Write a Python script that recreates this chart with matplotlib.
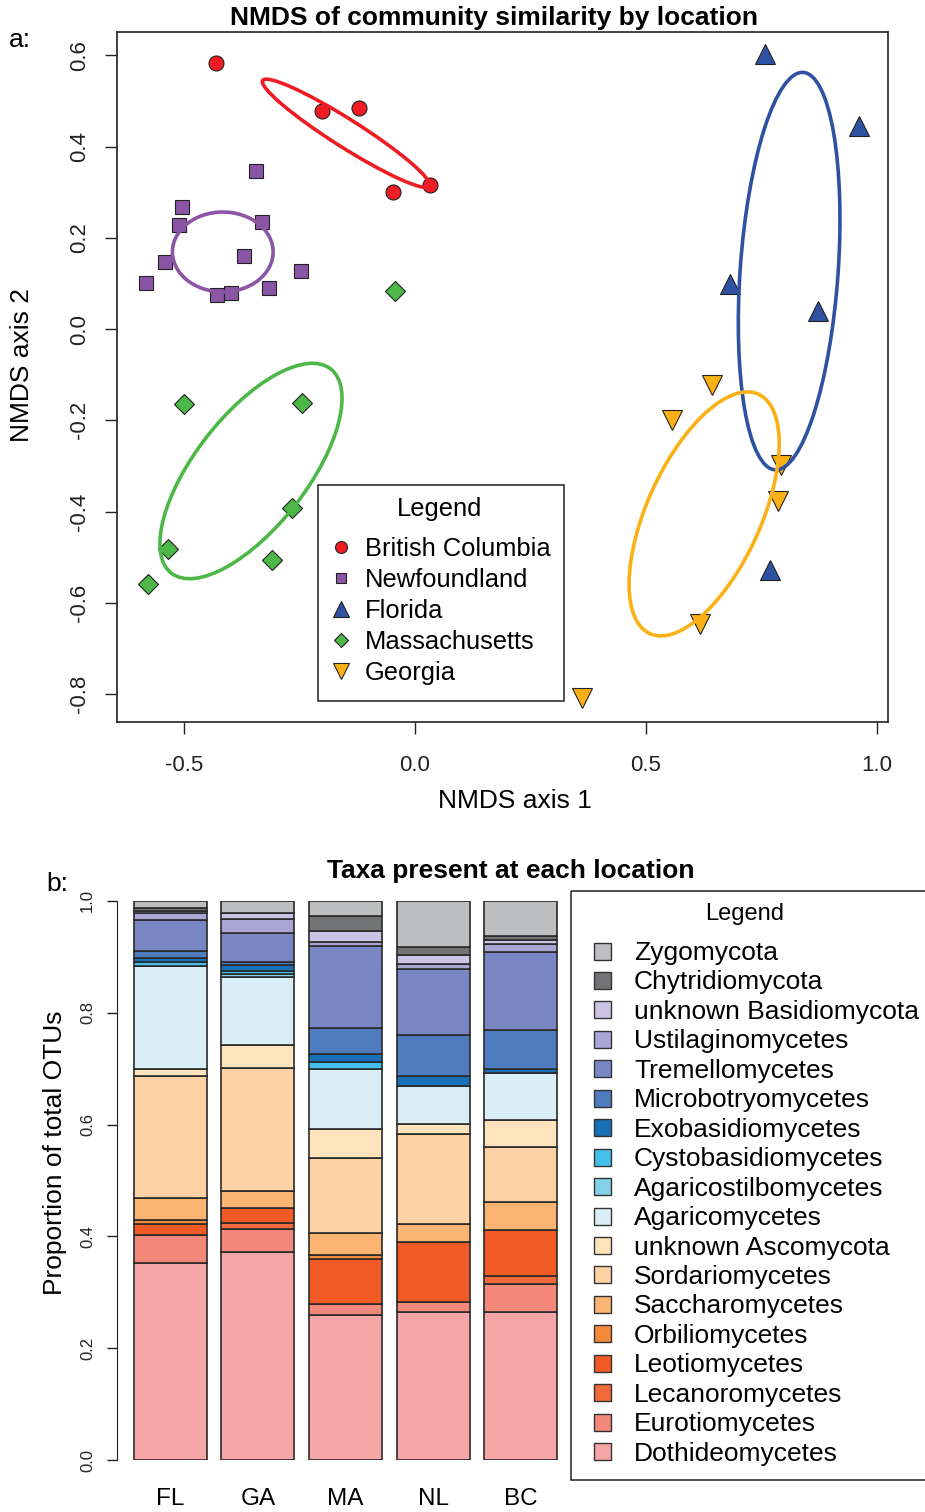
import numpy as np
import matplotlib.pyplot as plt
from matplotlib.patches import Ellipse, Rectangle

plt.rcParams['font.family'] = ['Liberation Sans', 'DejaVu Sans']

W, H = 925, 1512

# ---- panel a: NMDS scores ----
bc_x = [-0.431, -0.201, -0.121, -0.048, 0.032]
bc_y = [0.583, 0.478, 0.484, 0.300, 0.316]
nl_x = [-0.345, -0.505, -0.511, -0.332, -0.541, -0.371, -0.583, -0.247, -0.429, -0.399, -0.315]
nl_y = [0.346, 0.268, 0.229, 0.234, 0.148, 0.161, 0.101, 0.128, 0.074, 0.080, 0.089]
fl_x = [0.758, 0.962, 0.682, 0.872, 0.768]
fl_y = [0.603, 0.445, 0.098, 0.039, -0.528]
ma_x = [-0.043, -0.500, -0.245, -0.266, -0.535, -0.310, -0.578]
ma_y = [0.083, -0.164, -0.162, -0.392, -0.482, -0.506, -0.559]
ga_x = [0.643, 0.556, 0.792, 0.785, 0.617, 0.361]
ga_y = [-0.123, -0.200, -0.298, -0.377, -0.646, -0.809]

locations = ['British Columbia', 'Newfoundland', 'Florida', 'Massachusetts', 'Georgia']
loc_colors = ['#EE1D23', '#8B55A5', '#2E51A2', '#4DB848', '#FBB116']
loc_markers = ['o', 's', '^', 'D', 'v']

# ellipse centre x, centre y, width, height, angle
ell_cx = [-0.149, -0.416, 0.810, -0.355, 0.626]
ell_cy = [0.429, 0.169, 0.127, -0.311, -0.405]
ell_w = [0.429, 0.218, 0.873, 0.565, 0.575]
ell_h = [0.061, 0.175, 0.212, 0.243, 0.247]
ell_ang = [-32.7, 0, 86, 52.5, 66]

# ---- panel b: taxa proportions (bottom to top) ----
taxa = ['Dothideomycetes', 'Eurotiomycetes', 'Lecanoromycetes', 'Leotiomycetes',
        'Orbiliomycetes', 'Saccharomycetes', 'Sordariomycetes', 'unknown Ascomycota',
        'Agaricomycetes', 'Agaricostilbomycetes', 'Cystobasidiomycetes',
        'Exobasidiomycetes', 'Microbotryomycetes', 'Tremellomycetes',
        'Ustilaginomycetes', 'unknown Basidiomycota', 'Chytridiomycota', 'Zygomycota']
taxa_colors = ['#F7A6A8', '#F3877A', '#F26A3A', '#F15A24', '#F58A3B', '#FBB472',
               '#FED2A4', '#FEE3BD', '#DAEFF5', '#83D2EA', '#44BFEC', '#1870B8',
               '#4E7CBF', '#7887C3', '#A9A6D3', '#CBC3E3', '#727375', '#BDBEC0']
sites = ['FL', 'GA', 'MA', 'NL', 'BC']
fl = [0.353, 0.049, 0.0, 0.0196, 0.0072, 0.040, 0.218, 0.013, 0.1837, 0.0, 0.0073,
      0.0065, 0.0135, 0.055, 0.013, 0.0036, 0.0044, 0.013]
ga = [0.372, 0.0418, 0.0107, 0.0258, 0.0, 0.0315, 0.2189, 0.0423, 0.1205, 0.0065,
      0.0045, 0.0107, 0.0048, 0.052, 0.026, 0.011, 0.0, 0.021]
ma = [0.26, 0.0196, 0.0, 0.08, 0.0077, 0.0393, 0.1331, 0.053, 0.1068, 0.0, 0.013,
      0.0143, 0.0465, 0.1462, 0.0072, 0.0196, 0.0269, 0.0268]
nl = [0.2648, 0.0184, 0.0, 0.1073, 0.0, 0.0311, 0.161, 0.0179, 0.0691, 0.0, 0.0,
      0.0174, 0.0733, 0.1181, 0.0089, 0.0161, 0.0138, 0.0828]
bc = [0.2653, 0.0495, 0.0138, 0.0834, 0.0, 0.0495, 0.0979, 0.0488, 0.0841, 0.0, 0.0,
      0.0072, 0.0697, 0.139, 0.0143, 0.0077, 0.0067, 0.0631]


def fx(px):
    return px / W


def fy(py):
    return 1 - py / H


dark = '#222222'
fig = plt.figure(figsize=(W / 100, H / 100), dpi=100)

# ================= panel a =================
ax1 = fig.add_axes([fx(117), fy(722), (888 - 117) / W, (722 - 32) / H])
ax1.set_xlim(-0.645, 1.024)
ax1.set_ylim(-0.861, 0.651)

xs = [bc_x, nl_x, fl_x, ma_x, ga_x]
ys = [bc_y, nl_y, fl_y, ma_y, ga_y]
msizes = [10.8, 10, 14.5, 9.7, 14.5]
for x, y, c, m, s in zip(xs, ys, loc_colors, loc_markers, msizes):
    ax1.plot(x, y, linestyle='none', marker=m, ms=s, mfc=c, mec=dark, mew=0.8, zorder=3)

for i in range(5):
    e = Ellipse((ell_cx[i], ell_cy[i]), ell_w[i], ell_h[i], angle=ell_ang[i],
                fill=False, ec=loc_colors[i], lw=2.6, zorder=4)
    ax1.add_patch(e)

ax1.set_xticks([-0.5, 0.0, 0.5, 1.0])
ax1.set_xticklabels(['-0.5', '0.0', '0.5', '1.0'], fontsize=16)
yt = [-0.8, -0.6, -0.4, -0.2, 0.0, 0.2, 0.4, 0.6]
ax1.set_yticks(yt)
ax1.set_yticklabels(['%.1f' % v for v in yt], fontsize=16, rotation=90, va='center')
ax1.tick_params(axis='x', direction='out', length=8.6, width=1, pad=15, colors=dark)
ax1.tick_params(axis='y', direction='out', length=8.6, width=1, pad=10.5, colors=dark)
for sp in ax1.spines.values():
    sp.set_color(dark)
    sp.set_linewidth(1.2)

fig.text(fx(494), fy(18), 'NMDS of community similarity by location', fontsize=19,
         fontweight='bold', ha='center', va='center')
fig.text(fx(20), fy(40), 'a:', fontsize=19, ha='center', va='center')
fig.text(fx(515), fy(801), 'NMDS axis 1', fontsize=19, ha='center', va='center')
fig.text(fx(22), fy(365), 'NMDS axis 2', fontsize=19, ha='center', va='center', rotation=90)

# ================= panel b =================
ax2 = fig.add_axes([fx(117), fy(1460), (574 - 117) / W, 559 / H])
centers = 0.7 + 1.2 * np.arange(len(sites))
site_vals = np.array([fl, ga, ma, nl, bc])
bottom = np.zeros(len(sites))
for j in range(len(taxa)):
    ax2.bar(centers, site_vals[:, j], width=1.0, bottom=bottom, color=taxa_colors[j],
            edgecolor='#2a2a2a', linewidth=1.2)
    bottom += site_vals[:, j]
ax2.set_xlim(-0.032, 6.232)
ax2.set_ylim(0, 1)
for k in ['top', 'right', 'bottom']:
    ax2.spines[k].set_visible(False)
ax2.spines['left'].set_bounds(0, 1)
ax2.spines['left'].set_color(dark)
ax2.set_yticks([0, 0.2, 0.4, 0.6, 0.8, 1.0])
ax2.set_yticklabels(['0.0', '0.2', '0.4', '0.6', '0.8', '1.0'], fontsize=12,
                    rotation=90, va='center')
ax2.tick_params(axis='y', direction='out', length=7.2, width=1, pad=8.5, colors=dark)
ax2.set_xticks(centers)
ax2.set_xticklabels(sites, fontsize=17.5)
ax2.tick_params(axis='x', length=0, pad=20.5)

fig.text(fx(511), fy(871), 'Taxa present at each location', fontsize=19,
         fontweight='bold', ha='center', va='center')
fig.text(fx(57), fy(884), 'b:', fontsize=19, ha='center', va='center')
fig.text(fx(55), fy(1153), 'Proportion of total OTUs', fontsize=19, ha='center',
         va='center', rotation=90)

# ================= legends (drawn in pixel space) =================
ov = fig.add_axes([0, 0, 1, 1])
ov.set_xlim(0, W)
ov.set_ylim(H, 0)
ov.axis('off')

# panel a legend
ov.add_patch(Rectangle((318, 485), 246, 216, fill=True, fc='white', ec=dark, lw=1.1))
ov.text(440, 509, 'Legend', fontsize=18.4, ha='center', va='center')
leg_sizes = [8.6, 7.2, 11.5, 7.0, 11.5]
for i in range(5):
    yy = 547 + 31 * i
    ov.plot([341], [yy], linestyle='none', marker=loc_markers[i], ms=leg_sizes[i],
            mfc=loc_colors[i], mec=dark, mew=0.8)
    ov.text(365, yy + 2, locations[i], fontsize=18.4, ha='left', va='center')

# panel b legend
ov.add_patch(Rectangle((571, 891), 380, 589, fill=False, ec=dark, lw=1.1, clip_on=False))
ov.text(745, 914, 'Legend', fontsize=17, ha='center', va='center')
for i, j in enumerate(range(len(taxa) - 1, -1, -1)):
    yy = 951 + 29.45 * i
    ov.add_patch(Rectangle((594, yy - 8.5), 17, 17, fc=taxa_colors[j], ec='#333333', lw=1))
    ov.text(634, yy + 2, taxa[j], fontsize=19, ha='left', va='center')

fig.savefig('out.png', dpi=100)
